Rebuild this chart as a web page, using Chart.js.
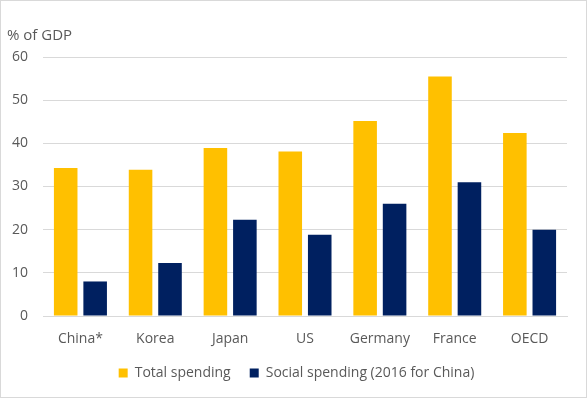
<!DOCTYPE html>
<html>
<head>
<meta charset="utf-8">
<script src="https://cdn.jsdelivr.net/npm/chart.js@4"></script>
<style>
  body { margin: 0; background: #fff; }
  #wrap { width: 585px; height: 396px; border: 1px solid #d9d9d9; position: relative; }
</style>
</head>
<body>
<div id="wrap"><canvas id="chart"></canvas></div>
<script>
const categories = ["China*", "Korea", "Japan", "US", "Germany", "France", "OECD"];
const totalSpending = [34.3, 33.9, 38.9, 38.1, 45.2, 55.5, 42.4];
const socialSpending = [8.0, 12.3, 22.3, 18.8, 26.0, 31.0, 20.0];
const seriesNames = ["Total spending", "Social spending (2016 for China)"];

const textColor = "#595959";
Chart.defaults.font.family = "'Open Sans', 'Noto Sans', sans-serif";
Chart.defaults.color = textColor;

let ctx = document.getElementById("chart").getContext("2d");
new Chart(ctx, {
  type: "bar",
  data: {
    labels: categories,
    datasets: [
      {
        label: seriesNames[0],
        data: totalSpending,
        backgroundColor: "#ffc000",
        barPercentage: 0.8,
        categoryPercentage: 0.787,
      },
      {
        label: seriesNames[1],
        data: socialSpending,
        backgroundColor: "#002060",
        barPercentage: 0.8,
        categoryPercentage: 0.787,
      },
    ],
  },
  options: {
    responsive: true,
    maintainAspectRatio: false,
    animation: false,
    layout: { padding: { left: 6, right: 0, top: 18, bottom: 7 } },
    plugins: {
      title: {
        display: true,
        text: "% of GDP",
        align: "start",
        color: textColor,
        font: { size: 15, weight: "normal" },
        padding: { top: 8, bottom: 12 },
      },
      legend: {
        position: "bottom",
        labels: {
          boxWidth: 9,
          boxHeight: 9,
          padding: 19,
          color: textColor,
          font: { size: 14 },
        },
      },
      tooltip: { enabled: false },
    },
    scales: {
      x: {
        grid: { display: false, drawTicks: false },
        border: { color: "#d9d9d9" },
        ticks: { color: textColor, font: { size: 14 }, padding: 15 },
        afterFit: function (scale) {
          scale.height = 31;
        },
      },
      y: {
        min: 0,
        max: 60,
        ticks: { stepSize: 10, color: textColor, font: { size: 14 }, padding: 15 },
        grid: { color: "#d9d9d9", drawTicks: false },
        border: { display: false },
        afterFit: function (scale) {
          scale.width = 36;
        },
      },
      // empty right axis, only keeps the plot off the right edge
      yRight: {
        position: "right",
        grid: { display: false },
        border: { display: false },
        ticks: { display: false },
        afterFit: function (scale) {
          scale.width = 19;
        },
      },
    },
  },
});
</script>
</body>
</html>
